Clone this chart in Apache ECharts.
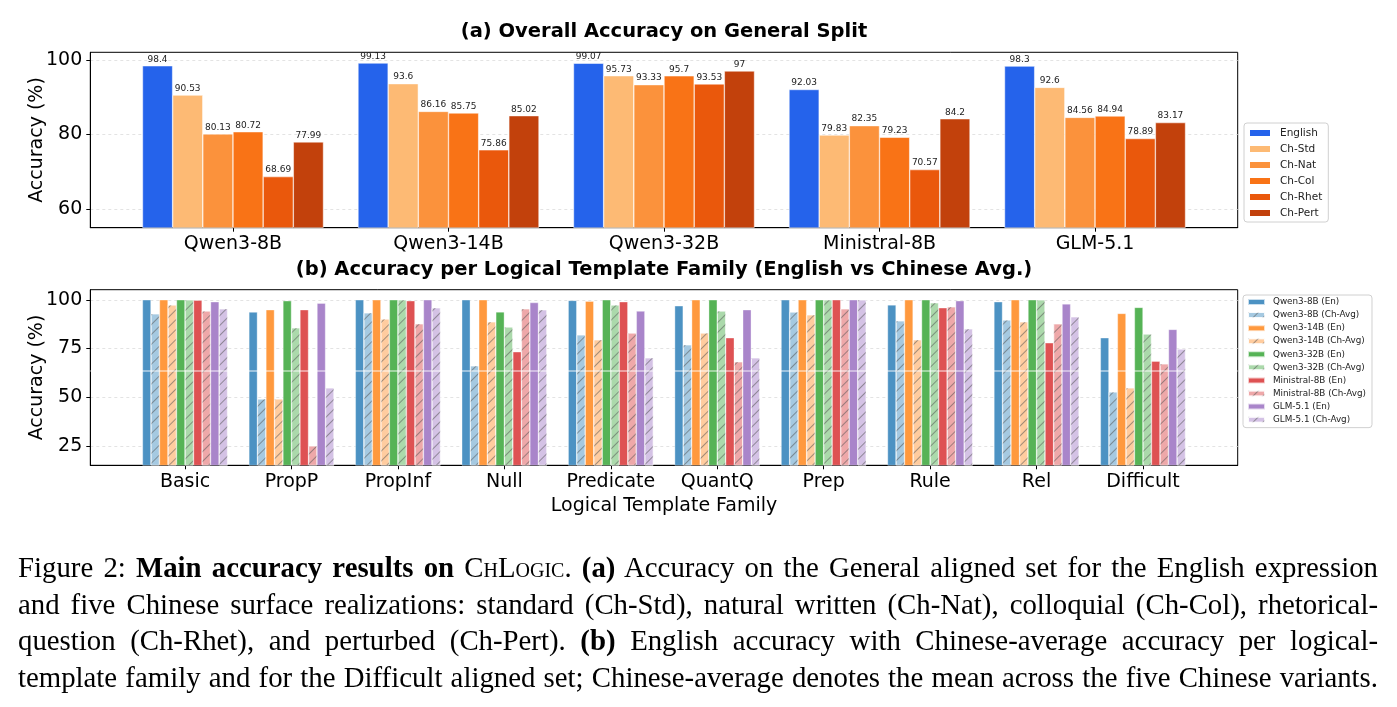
<!DOCTYPE html>
<html>
<head>
<meta charset="utf-8">
<script src="https://cdn.jsdelivr.net/npm/echarts@6/dist/echarts.min.js"></script>
<style>
html,body{margin:0;padding:0;background:#fff;}
#chart{position:absolute;left:0;top:0;width:1397px;height:707px;}
#caption{position:absolute;left:18px;top:549px;width:1360px;font-family:"Liberation Serif","Times New Roman",serif;font-size:28.8px;line-height:36.7px;color:#000;}
#caption div{text-align:justify;text-align-last:justify;white-space:nowrap;}
.sc{font-variant:small-caps;}
</style>
</head>
<body>
<div id="chart"></div>
<div id="caption">
<div>Figure 2: <b>Main accuracy results on</b> <span class="sc">ChLogic</span>. <b>(a)</b> Accuracy on the General aligned set for the English expression</div>
<div>and five Chinese surface realizations: standard (Ch-Std), natural written (Ch-Nat), colloquial (Ch-Col), rhetorical-</div>
<div>question (Ch-Rhet), and perturbed (Ch-Pert). <b>(b)</b> English accuracy with Chinese-average accuracy per logical-</div>
<div>template family and for the Difficult aligned set; Chinese-average denotes the mean across the five Chinese variants.</div>
</div>
<script>
// ---------- Panel (a) data ----------
const modelsA = ['Qwen3-8B', 'Qwen3-14B', 'Qwen3-32B', 'Ministral-8B', 'GLM-5.1'];
const variantsA = ['English', 'Ch-Std', 'Ch-Nat', 'Ch-Col', 'Ch-Rhet', 'Ch-Pert'];
const english = [98.4, 99.13, 99.07, 92.03, 98.3];
const chStd   = [90.53, 93.6, 95.73, 79.83, 92.6];
const chNat   = [80.13, 86.16, 93.33, 82.35, 84.56];
const chCol   = [80.72, 85.75, 95.7, 79.23, 84.94];
const chRhet  = [68.69, 75.86, 93.53, 70.57, 78.89];
const chPert  = [77.99, 85.02, 97, 84.2, 83.17];
const ticksA = [60, 80, 100];

// ---------- Panel (b) data ----------
const families = ['Basic', 'PropP', 'PropInf', 'Null', 'Predicate', 'QuantQ', 'Prep', 'Rule', 'Rel', 'Difficult'];
const seriesNamesB = ['Qwen3-8B (En)', 'Qwen3-8B (Ch-Avg)', 'Qwen3-14B (En)', 'Qwen3-14B (Ch-Avg)',
  'Qwen3-32B (En)', 'Qwen3-32B (Ch-Avg)', 'Ministral-8B (En)', 'Ministral-8B (Ch-Avg)',
  'GLM-5.1 (En)', 'GLM-5.1 (Ch-Avg)'];
const qwen8En      = [100, 93.7, 100, 100, 99.7, 96.9, 100, 97.4, 99.0, 80.5];
const qwen8Ch      = [92.8, 49.1, 93.3, 66.1, 82.0, 76.9, 93.8, 89.2, 89.7, 52.7];
const qwen14En     = [100, 94.9, 100, 100, 99.3, 100, 100, 100, 100, 93.0];
const qwen14Ch     = [97.4, 49.1, 90.2, 88.7, 79.5, 83.0, 92.3, 79.5, 88.7, 54.8];
const qwen32En     = [100, 99.5, 100, 93.8, 100, 100, 100, 100, 100, 96.1];
const qwen32Ch     = [100, 85.6, 100, 86.1, 97.4, 94.3, 100, 98.5, 100, 82.5];
const ministralEn  = [99.8, 94.9, 99.5, 73.3, 99.0, 80.5, 100, 95.9, 77.9, 68.5];
const ministralCh  = [94.3, 25.0, 87.7, 95.4, 83.0, 68.2, 95.4, 96.4, 87.7, 67.1];
const glmEn        = [99.0, 98.3, 100, 98.6, 94.2, 94.9, 100, 99.5, 97.9, 84.8];
const glmCh        = [95.4, 54.8, 95.9, 94.9, 70.2, 70.2, 100, 85.1, 91.3, 74.8];
const ticksB = [25, 50, 75, 100];
const refLineB = 63.5;

// ---------- styling ----------
const FONT = 'DejaVu Sans';
const colorsA = ['#2563eb', '#fdba74', '#fb923c', '#f97316', '#ea580c', '#c2410c'];
const enColorsB = ['#4c92c3', '#ff993e', '#56b356', '#de5253', '#a985ca'];
const chColorsB = ['#a5c9e1', '#ffcc9f', '#abd9ab', '#eea8a9', '#d4c2e5'];

const valuesA = [english, chStd, chNat, chCol, chRhet, chPert];
const valuesB = [qwen8En, qwen8Ch, qwen14En, qwen14Ch, qwen32En, qwen32Ch, ministralEn, ministralCh, glmEn, glmCh];
const idxA = modelsA.map((_, i) => i);
const idxB = families.map((_, i) => i);

const hatch = {
  symbol: 'rect', symbolSize: 1,
  dashArrayX: [1, 0], dashArrayY: [1, 5.4],
  rotation: -Math.PI / 4,
  color: 'rgba(85,85,85,0.55)'
};

const seriesA = variantsA.map((name, k) => ({
  name, type: 'bar', xAxisIndex: 0, yAxisIndex: 0,
  data: valuesA[k].map((v, i) => [i, v]),
  barWidth: '14%', barGap: '0%',
  itemStyle: { color: colorsA[k], borderColor: '#fff', borderWidth: 0.5 },
  label: { show: true, position: 'top', distance: 2, fontFamily: FONT, fontSize: 9, color: '#222',
           formatter: p => String(p.value[1]) },
  emphasis: { disabled: true }
}));

const seriesB = seriesNamesB.map((name, k) => {
  const m = Math.floor(k / 2), isCh = k % 2 === 1;
  const s = {
    name, type: 'bar', xAxisIndex: 1, yAxisIndex: 1,
    data: valuesB[k].map((v, i) => [i, v]),
    barWidth: '8%', barGap: '0%',
    itemStyle: isCh
      ? { color: chColorsB[m], borderColor: 'rgba(255,255,255,0.7)', borderWidth: 0.5, decal: hatch }
      : { color: enColorsB[m], borderColor: 'rgba(255,255,255,0.7)', borderWidth: 0.5 },
    emphasis: { disabled: true }
  };
  if (k === seriesNamesB.length - 1) {
    s.markLine = {
      silent: true, symbol: 'none', label: { show: false },
      lineStyle: { color: '#ffffff', width: 1.5, opacity: 0.6, type: 'solid' },
      data: [{ yAxis: refLineB }]
    };
  }
  return s;
});

const axisText = { fontFamily: FONT, fontSize: 19, color: '#000' };

function yAxisDef(grid, min, max, ticks, nameGap) {
  return {
    gridIndex: grid, type: 'value', min, max,
    name: 'Accuracy (%)', nameLocation: 'middle', nameGap, nameMoveOverlap: false,
    nameTextStyle: axisText,
    axisLine: { show: true, onZero: false, lineStyle: { color: '#000', width: 1 } },
    axisTick: { show: true, length: 4, customValues: ticks, lineStyle: { color: '#000' } },
    axisLabel: Object.assign({ customValues: ticks, margin: 8 }, axisText),
    splitLine: { show: true, lineStyle: { color: '#dcdcdc', width: 0.8, type: [3, 3] } }
  };
}
function xAxisDef(grid, min, max, idx, names, extra) {
  return Object.assign({
    gridIndex: grid, type: 'value', min, max,
    axisLine: { show: true, onZero: false, lineStyle: { color: '#000', width: 1 } },
    axisTick: { show: true, length: 4, customValues: idx, lineStyle: { color: '#000' } },
    axisLabel: Object.assign({ customValues: idx, margin: 7, formatter: v => names[Math.round(v)] }, axisText),
    splitLine: { show: false }
  }, extra || {});
}

const chart = echarts.init(document.getElementById('chart'));
chart.setOption({
  animation: false,
  backgroundColor: '#ffffff',
  grid: [
    { left: 90.3, top: 52.3, width: 1147.4, height: 175.4, show: true, borderColor: '#000', borderWidth: 1, backgroundColor: 'transparent' },
    { left: 90.3, top: 289.7, width: 1147.4, height: 175.6, show: true, borderColor: '#000', borderWidth: 1, backgroundColor: 'transparent' }
  ],
  xAxis: [
    xAxisDef(0, -0.662, 4.662, idxA, modelsA),
    xAxisDef(1, -0.89, 9.89, idxB, families, {
      name: 'Logical Template Family', nameLocation: 'middle', nameGap: 31, nameMoveOverlap: false, nameTextStyle: axisText
    })
  ],
  yAxis: [
    yAxisDef(0, 55, 102, ticksA, 44),
    yAxisDef(1, 15, 105.2, ticksB, 44)
  ],
  legend: [
    { data: variantsA, orient: 'vertical', left: 1244, top: 123, icon: 'rect',
      itemWidth: 22, itemHeight: 8, itemGap: 4, padding: [4, 6, 3, 4],
      backgroundColor: '#fff', borderColor: '#d0d0d0', borderWidth: 1, borderRadius: 3,
      selectedMode: false,
      textStyle: { fontFamily: FONT, fontSize: 10.5, lineHeight: 12, color: '#222', padding: [0, 0, 0, 4] } },
    { data: seriesNamesB, orient: 'vertical', left: 1243, top: 295, icon: 'rect',
      itemWidth: 17, itemHeight: 6, itemGap: 3.07, padding: [2, 6, 3, 4],
      backgroundColor: '#fff', borderColor: '#d0d0d0', borderWidth: 1, borderRadius: 3,
      selectedMode: false,
      textStyle: { fontFamily: FONT, fontSize: 8.8, lineHeight: 10, color: '#222', padding: [0, 0, 0, 3] } }
  ],
  graphic: [
    { type: 'text', x: 664, y: 32, style: { text: '(a) Overall Accuracy on General Split',
      font: 'bold 19.5px "DejaVu Sans"', fill: '#000', textAlign: 'center', textVerticalAlign: 'middle' } },
    { type: 'text', x: 664, y: 269.5, style: { text: '(b) Accuracy per Logical Template Family (English vs Chinese Avg.)',
      font: 'bold 19.5px "DejaVu Sans"', fill: '#000', textAlign: 'center', textVerticalAlign: 'middle' } }
  ],
  series: seriesA.concat(seriesB)
});
</script>
</body>
</html>
